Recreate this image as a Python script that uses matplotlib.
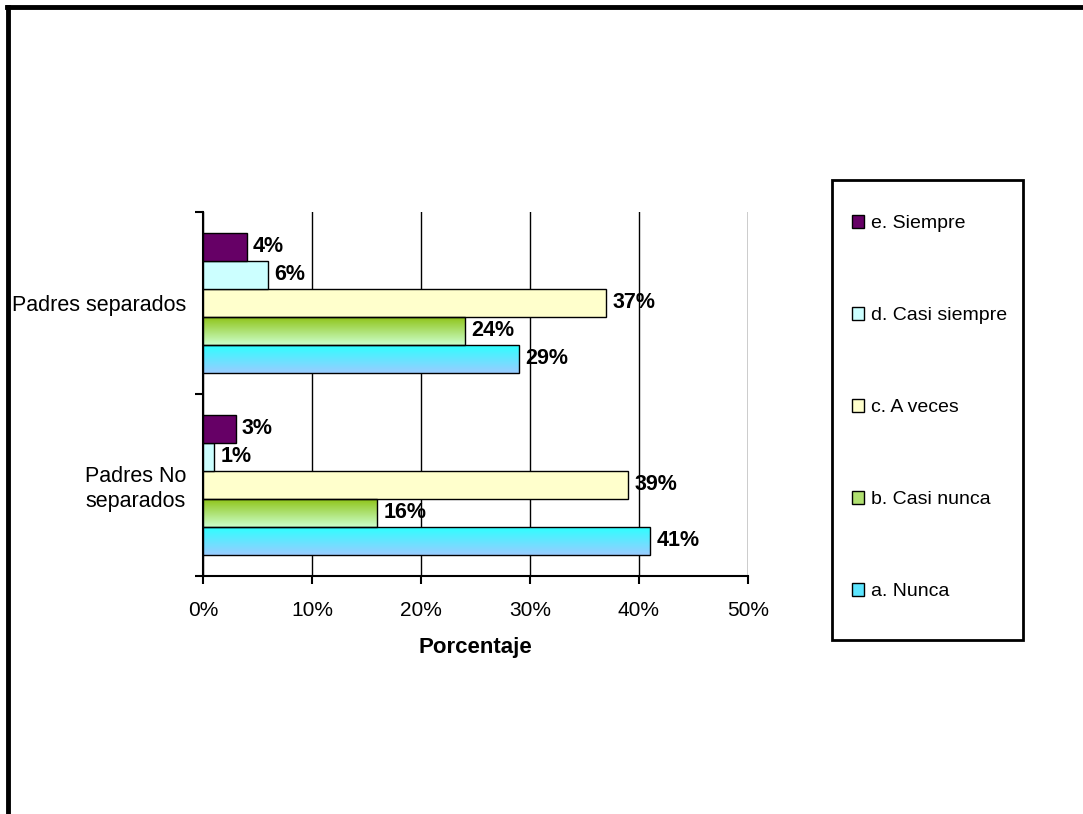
import matplotlib
matplotlib.use("Agg")
import matplotlib.pyplot as plt
import numpy as np
from matplotlib.patches import Patch, Rectangle
from matplotlib.colors import LinearSegmentedColormap
from matplotlib.lines import Line2D

plt.rcParams['font.family'] = ['Liberation Sans', 'DejaVu Sans']

# data
categories = ["Padres No\nseparados", "Padres separados"]
series = ["a. Nunca", "b. Casi nunca", "c. A veces", "d. Casi siempre", "e. Siempre"]
values = {
    "a. Nunca": [0.41, 0.29],
    "b. Casi nunca": [0.16, 0.24],
    "c. A veces": [0.39, 0.37],
    "d. Casi siempre": [0.01, 0.06],
    "e. Siempre": [0.03, 0.04],
}
# (top colour, bottom colour) - same colour means flat fill
colors = {
    "a. Nunca": ("#2EFFFF", "#99CCFF"),
    "b. Casi nunca": ("#8FC41A", "#CCFFCC"),
    "c. A veces": ("#FFFFCC", "#FFFFCC"),
    "d. Casi siempre": ("#CCFFFF", "#CCFFFF"),
    "e. Siempre": ("#660066", "#660066"),
}
legend_colors = {"a. Nunca": "#5CE6FF", "b. Casi nunca": "#B0E070"}
xticks = [0, 0.1, 0.2, 0.3, 0.4, 0.5]

W, H = 1083, 814
fig = plt.figure(figsize=(W / 100, H / 100), dpi=100)
ax = fig.add_axes([203 / W, 1 - 576 / H, 545 / W, 364 / H])

bar_h = 28 / 182
y = np.arange(len(categories))
for i, s in enumerate(series):
    off = (i - 2) * bar_h
    top, bot = colors[s]
    for j, v in enumerate(values[s]):
        yc = y[j] + off
        if top == bot:
            ax.barh(yc, v, height=bar_h, color=top, edgecolor="black", linewidth=1, zorder=3)
        else:
            cmap = LinearSegmentedColormap.from_list("g", [bot, top])
            grad = np.linspace(0, 1, 64).reshape(-1, 1)
            ax.imshow(grad, cmap=cmap, aspect="auto", origin="lower",
                      extent=(0, v, yc - bar_h / 2, yc + bar_h / 2), zorder=3)
            ax.barh(yc, v, height=bar_h, color="none", edgecolor="black", linewidth=1, zorder=4)
        ax.annotate(f"{round(v * 100):.0f}%", (v, yc), xytext=(4.5, 0), textcoords="offset points",
                    va="center", ha="left", fontsize=15.5, fontweight="bold", zorder=5)

ax.set_xlim(0, 0.5)
ax.set_ylim(-0.5, 1.5)
ax.set_xticks(xticks)
ax.set_xticklabels([f"{int(t * 100)}%" for t in xticks], fontsize=15)
ax.tick_params(axis="x", length=6, width=1.5, pad=12, color="black")
ax.grid(axis="x", color="black", linewidth=1, zorder=1)
ax.set_yticks([-0.5, 0.5, 1.5])
ax.set_yticklabels([])
ax.tick_params(axis="y", length=6, width=1.5)
ax.set_yticks(y, minor=True)
ax.set_yticklabels(categories, minor=True, fontsize=15.5, ha="right", multialignment="center")
ax.tick_params(axis="y", which="minor", length=0, pad=12)
for sp in ["top", "right"]:
    ax.spines[sp].set_visible(False)
ax.spines["left"].set_linewidth(1.5)
ax.spines["bottom"].set_linewidth(1.5)
ax.set_xlabel("Porcentaje", fontsize=16, fontweight="bold", labelpad=12)

# legend, e at top
handles = [Patch(facecolor=legend_colors.get(s, colors[s][0]), edgecolor="black", linewidth=1)
           for s in series[::-1]]
fig.legend(handles, series[::-1], loc="upper left", bbox_to_anchor=(852 / W, 1 - 215 / H),
           fontsize=14, frameon=False, handlelength=0.62, handleheight=0.62,
           handletextpad=0.35, labelspacing=3.85, borderpad=0, borderaxespad=0)
fig.add_artist(Rectangle((832 / W, 1 - 640 / H), 191 / W, 460 / H, transform=fig.transFigure,
                         facecolor="none", edgecolor="black", linewidth=2))

# outer chart border
fig.add_artist(Line2D([7 / W, 1.01], [1 - 7 / H, 1 - 7 / H], color="black", linewidth=3.5))
fig.add_artist(Line2D([8 / W, 8 / W], [-0.01, 1 - 7 / H], color="black", linewidth=3.5))

fig.savefig("out.png", dpi=100)
